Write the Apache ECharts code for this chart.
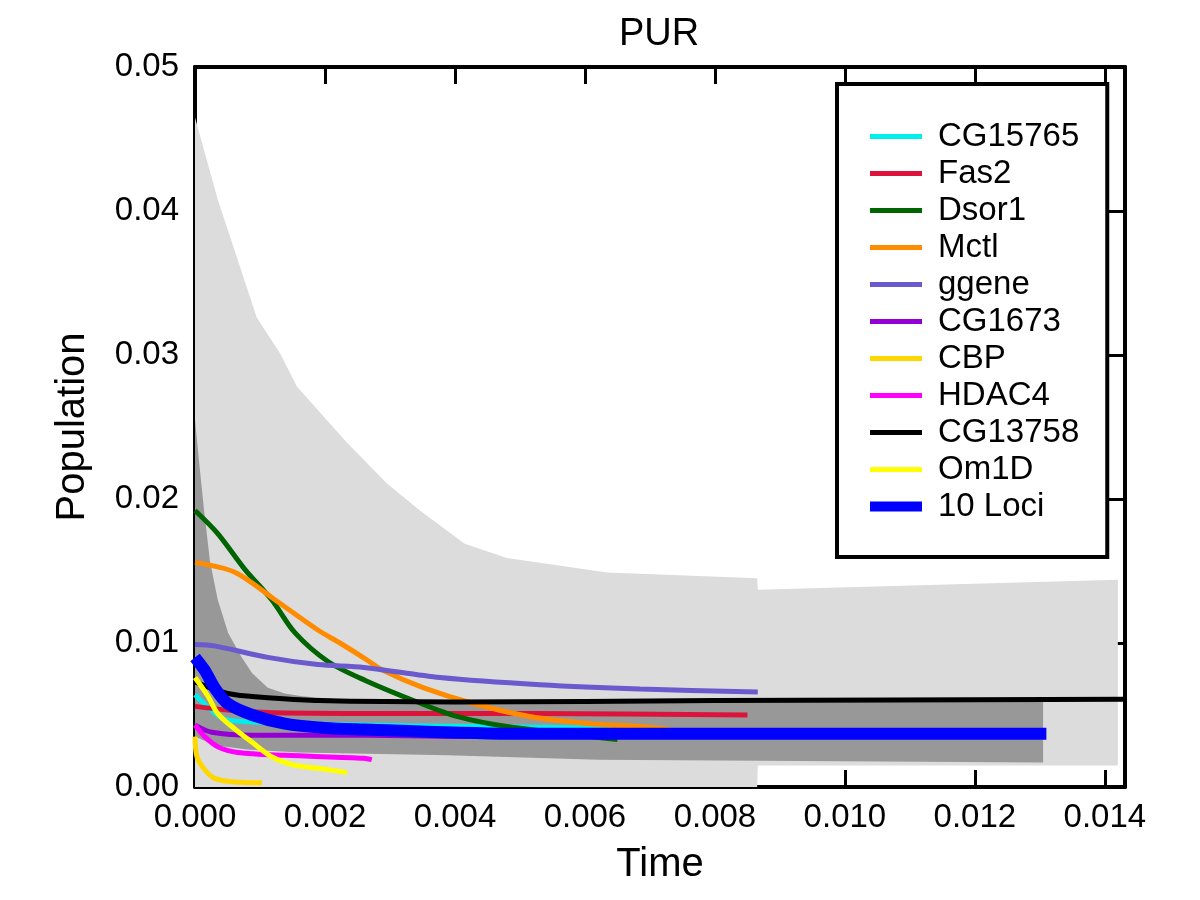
<!DOCTYPE html>
<html>
<head>
<meta charset="utf-8">
<title>PUR</title>
<script src="https://cdn.jsdelivr.net/npm/echarts@6/dist/echarts.min.js"></script>
<style>
  html, body { margin: 0; padding: 0; background: #fff; }
  #chart { width: 1200px; height: 900px; }
</style>
</head>
<body>
<div id="chart"></div>
<script>
// axis ticks
const xTicks = [0, 0.002, 0.004, 0.006, 0.008, 0.010, 0.012, 0.014];
const yTicks = [0, 0.01, 0.02, 0.03, 0.04, 0.05];

// light grey band (outer range)
const lightBandX = [0, 0.00035, 0.00095, 0.00131, 0.00157, 0.00234, 0.00295, 0.00346, 0.00415, 0.0048, 0.00634, 0.00865, 0.00866, 0.0142];
const lightBandUpper = [0.0465, 0.0408, 0.0326, 0.0301, 0.0278, 0.0239, 0.0211, 0.0192, 0.0169, 0.0159, 0.0149, 0.0145, 0.0137, 0.0144];
const lightBandLowerX = [0, 0.00865, 0.00866, 0.0142];
const lightBandLower = [0, 0, 0.0015, 0.0015];

// dark grey band (inner range)
const darkBandX = [0, 0.00006, 0.00014, 0.00023, 0.00035, 0.00051, 0.00072, 0.00088, 0.00112, 0.00138, 0.00165, 0.0024, 0.0065, 0.01305];
const darkBandUpper = [0.0255, 0.0227, 0.0192, 0.0157, 0.0130, 0.0107, 0.0090, 0.0079, 0.0069, 0.0065, 0.0063, 0.0060, 0.0059, 0.0059];
const darkBandLowerX = [0, 0.0003, 0.0008, 0.0016, 0.0039, 0.0062, 0.01305];
const darkBandLower = [0.0035, 0.0029, 0.0026, 0.0024, 0.0022, 0.0019, 0.0017];

// loci
const cg15765X = [0, 0.00026, 0.00046, 0.001, 0.0026, 0.0043, 0.0064];
const cg15765Y = [0.0064, 0.0053, 0.0047, 0.0045, 0.0043, 0.0042, 0.0041];

const fas2X = [0, 0.0009, 0.0026, 0.0052, 0.0085];
const fas2Y = [0.0056, 0.0052, 0.0051, 0.0051, 0.0050];

const dsor1X = [0, 0.00035, 0.00077, 0.00118, 0.00154, 0.00205, 0.00262, 0.00342, 0.00403, 0.0048, 0.0065];
const dsor1Y = [0.0192, 0.0176, 0.0151, 0.0130, 0.0107, 0.0087, 0.0074, 0.0059, 0.0049, 0.0042, 0.0033];

const mctlX = [0, 0.00062, 0.00123, 0.00189, 0.00223, 0.00262, 0.00289, 0.00351, 0.00428, 0.00515, 0.00608, 0.00685, 0.0073];
const mctlY = [0.0156, 0.0149, 0.0130, 0.0109, 0.0100, 0.0089, 0.0081, 0.0069, 0.0058, 0.0049, 0.0044, 0.0042, 0.0040];

const ggeneX = [0, 0.0003, 0.00112, 0.00189, 0.0026, 0.00377, 0.00531, 0.00685, 0.00866];
const ggeneY = [0.0099, 0.0098, 0.0090, 0.0085, 0.0083, 0.0076, 0.0071, 0.0068, 0.0066];

const cg1673X = [0, 0.00026, 0.00088, 0.0026, 0.0045, 0.0060];
const cg1673Y = [0.0043, 0.0038, 0.0036, 0.0036, 0.0035, 0.0035];

const cbpX = [0, 0.00003, 0.00015, 0.0003, 0.0006, 0.00103];
const cbpY = [0.0035, 0.0021, 0.0012, 0.0006, 0.00035, 0.0003];

const hdac4X = [0, 0.00015, 0.00035, 0.00066, 0.00138, 0.0026, 0.00272];
const hdac4Y = [0.0043, 0.0035, 0.0028, 0.0024, 0.0022, 0.0020, 0.0019];

const cg13758X = [0, 0.00035, 0.00062, 0.00112, 0.0019, 0.004, 0.008, 0.0143];
const cg13758Y = [0.0073, 0.0067, 0.0064, 0.0062, 0.0060, 0.0059, 0.0060, 0.0061];

const om1dX = [0, 0.0002, 0.00035, 0.00062, 0.00088, 0.00118, 0.00154, 0.0019, 0.00234];
const om1dY = [0.0076, 0.0063, 0.0051, 0.0040, 0.0031, 0.0021, 0.0015, 0.0013, 0.0010];

const lociX = [0, 0.00015, 0.0003, 0.0005, 0.00088, 0.00138, 0.002, 0.0026, 0.005, 0.0131];
const lociY = [0.0090, 0.0081, 0.0069, 0.0058, 0.0050, 0.0044, 0.0041, 0.0040, 0.0037, 0.0037];

const legendNames = ['CG15765', 'Fas2', 'Dsor1', 'Mctl', 'ggene', 'CG1673', 'CBP', 'HDAC4', 'CG13758', 'Om1D', '10 Loci'];

const FONT = '"Liberation Sans", Arial, Helvetica, sans-serif';
// legend swatches: bar on the left, invisible dots keep the box 63x10
const thinIcon = 'path://M0,2.5L52,2.5L52,7.5L0,7.5Z M63,0L63.01,0L63.01,0.01Z M0,10L0.01,10L0.01,9.99Z';
const thickIcon = 'path://M0,0L52,0L52,10L0,10Z M63,0L63.01,0L63.01,0.01Z';

const pairs = (xs, ys) => xs.map((x, i) => [x, ys[i]]);

function bandSeries(name, xsUp, ysUp, xsLo, ysLo, color) {
  return {
    name: name,
    type: 'custom',
    silent: true,
    z: 1,
    data: [[0, 0]],
    renderItem: function (params, api) {
      const pts = [];
      for (let i = 0; i < xsUp.length; i++) pts.push(api.coord([xsUp[i], ysUp[i]]));
      for (let i = xsLo.length - 1; i >= 0; i--) pts.push(api.coord([xsLo[i], ysLo[i]]));
      return { type: 'polygon', shape: { points: pts }, style: { fill: color } };
    }
  };
}

function lineSeries(name, xs, ys, color, width, z) {
  return {
    name: name,
    type: 'line',
    data: pairs(xs, ys),
    showSymbol: false,
    symbol: 'none',
    smooth: 0.3,
    color: color,
    lineStyle: { color: color, width: width },
    z: z || 2
  };
}

const chart = echarts.init(document.getElementById('chart'));

const tickStyle = { inside: true, length: 17, lineStyle: { color: '#000', width: 3 } };
const lineAxis = { onZero: false, lineStyle: { color: '#000', width: 4 } };

chart.setOption({
  backgroundColor: '#fff',
  animation: false,
  title: {
    text: 'PUR',
    left: 619,
    top: 16,
    padding: 0,
    textStyle: { fontFamily: FONT, fontSize: 38, fontWeight: 'normal', color: '#000' }
  },
  grid: { left: 195, right: 75, top: 67, bottom: 113, containLabel: false },
  legend: {
    data: legendNames.map(n => ({ name: n, icon: n === '10 Loci' ? thickIcon : thinIcon })),
    orient: 'vertical',
    left: 837,
    top: 84,
    padding: [34, 28, 32, 33],
    itemWidth: 63,
    itemHeight: 10,
    itemGap: 0,
    borderColor: '#000',
    borderWidth: 4,
    borderRadius: 0,
    selectedMode: false,
    itemStyle: { borderWidth: 0 },
    textStyle: { fontFamily: FONT, fontSize: 33, color: '#000', lineHeight: 37 }
  },
  xAxis: [
    {
      type: 'value',
      min: 0,
      max: 0.01431,
      interval: 0.002,
      name: 'Time',
      nameLocation: 'middle',
      nameGap: 58,
      nameTextStyle: { fontFamily: FONT, fontSize: 40, color: '#000' },
      axisLine: lineAxis,
      axisTick: tickStyle,
      splitLine: { show: false },
      axisLabel: {
        fontFamily: FONT, fontSize: 33, color: '#000', margin: 14,
        showMaxLabel: false,
        formatter: v => xTicks.some(t => Math.abs(t - v) < 1e-9) ? v.toFixed(3) : ''
      }
    },
    {
      type: 'value',
      position: 'top',
      min: 0,
      max: 0.01431,
      interval: 0.002,
      axisLine: lineAxis,
      axisTick: tickStyle,
      axisLabel: { show: false },
      splitLine: { show: false }
    }
  ],
  yAxis: [
    {
      type: 'value',
      min: 0,
      max: 0.05,
      interval: 0.01,
      name: 'Population',
      nameLocation: 'middle',
      nameGap: 102,
      nameTextStyle: { fontFamily: FONT, fontSize: 40, color: '#000' },
      axisLine: lineAxis,
      axisTick: tickStyle,
      splitLine: { show: false },
      axisLabel: {
        fontFamily: FONT, fontSize: 33, color: '#000', margin: 16,
        formatter: v => yTicks.some(t => Math.abs(t - v) < 1e-9) ? v.toFixed(2) : ''
      }
    },
    {
      type: 'value',
      position: 'right',
      min: 0,
      max: 0.05,
      interval: 0.01,
      axisLine: lineAxis,
      axisTick: tickStyle,
      axisLabel: { show: false },
      splitLine: { show: false }
    }
  ],
  series: [
    bandSeries('outer', lightBandX, lightBandUpper, lightBandLowerX, lightBandLower, '#dcdcdc'),
    bandSeries('inner', darkBandX, darkBandUpper, darkBandLowerX, darkBandLower, '#989898'),
    lineSeries('CG15765', cg15765X, cg15765Y, '#00eeee', 5),
    lineSeries('Fas2', fas2X, fas2Y, '#dc143c', 5),
    lineSeries('Dsor1', dsor1X, dsor1Y, '#006400', 5),
    lineSeries('Mctl', mctlX, mctlY, '#ff8c00', 5),
    lineSeries('ggene', ggeneX, ggeneY, '#6a5acd', 5),
    lineSeries('CG1673', cg1673X, cg1673Y, '#9400d3', 5),
    lineSeries('CBP', cbpX, cbpY, '#ffd700', 5),
    lineSeries('HDAC4', hdac4X, hdac4Y, '#ff00ff', 5),
    lineSeries('CG13758', cg13758X, cg13758Y, '#000000', 5),
    lineSeries('10 Loci', lociX, lociY, '#0000ff', 12, 3),
    lineSeries('Om1D', om1dX, om1dY, '#ffff00', 5, 4)
  ]
});
</script>
</body>
</html>
